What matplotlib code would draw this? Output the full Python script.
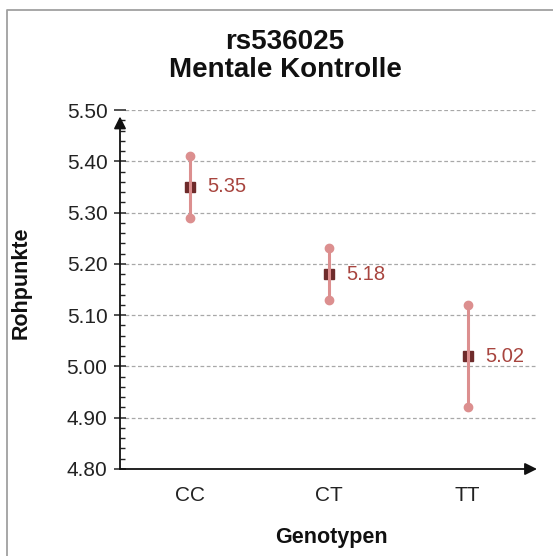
import matplotlib
matplotlib.use("Agg")
import matplotlib.pyplot as plt
from matplotlib.lines import Line2D
from matplotlib.ticker import MultipleLocator

plt.rcParams['font.family'] = ['Liberation Sans', 'DejaVu Sans']

categories = ["CC", "CT", "TT"]
means = [5.35, 5.18, 5.02]
lower = [5.29, 5.13, 4.92]
upper = [5.41, 5.23, 5.12]
value_labels = ["5.35", "5.18", "5.02"]
yticks = [4.80, 4.90, 5.00, 5.10, 5.20, 5.30, 5.40, 5.50]

title = "rs536025\nMentale Kontrolle"
xlabel = "Genotypen"
ylabel = "Rohpunkte"

W, H = 553, 556
fig = plt.figure(figsize=(W / 100, H / 100), dpi=100)
ax = fig.add_axes([120/W, 1 - 469/H, 417/W, 359/H])

line_col = "#dc8f8f"
mark_col = "#6e2b2b"
lab_col = "#a8453f"
txt_col = "#222222"

x = list(range(len(categories)))
for xi, m, lo, hi, lab in zip(x, means, lower, upper, value_labels):
    ax.plot([xi], [m], marker="s", ms=6.5, color=mark_col, zorder=3, linestyle="none")
    ax.plot([xi, xi], [lo, hi], color=line_col, lw=2.2, zorder=4, solid_capstyle="butt")
    ax.plot([xi, xi], [lo, hi], marker="o", ms=6, color=line_col, linestyle="none", zorder=4)
    ax.annotate(lab, xy=(xi, m), xytext=(13, 0), textcoords="offset points",
                ha="left", va="center", color=lab_col, fontsize=14.5)

ax.set_xlim(-0.5, 2.5)
ax.set_ylim(4.80, 5.50)
ax.set_xticks(x)
ax.set_xticklabels(categories)
ax.set_yticks(yticks)
ax.set_yticklabels([f"{v:.2f}" for v in yticks])
ax.yaxis.set_minor_locator(MultipleLocator(0.02))

for sp in ax.spines.values():
    sp.set_visible(False)

for v in yticks[1:]:
    ax.axhline(v, xmin=0.012, xmax=1.0, color="#a8a8a8", lw=0.9, ls=(0, (3, 2)), zorder=1)

ax.tick_params(axis="y", which="major", direction="inout", length=8, width=1.1,
               color=txt_col, labelsize=15, labelcolor=txt_col, pad=5)
ax.tick_params(axis="y", which="minor", direction="in", length=3.5, width=1.0, color=txt_col)
ax.tick_params(axis="x", which="major", length=0, labelsize=15, labelcolor=txt_col, pad=12)

# axis arrows
ax.annotate("", xy=(1.0, 0), xytext=(0, 0), xycoords="axes fraction",
            arrowprops=dict(arrowstyle="-|>", color="#111111", lw=1.3, mutation_scale=18,
                            shrinkA=0, shrinkB=0), zorder=5)
ax.annotate("", xy=(0, 0.982), xytext=(0, 0), xycoords="axes fraction",
            arrowprops=dict(arrowstyle="-|>", color="#111111", lw=1.3, mutation_scale=18,
                            shrinkA=0, shrinkB=0), zorder=5)

fig.text(331/W, 1 - 537/H, xlabel, ha="center", va="center", fontsize=15.5,
         fontweight="bold", color="#111111")
fig.text(21/W, 1 - 283/H, ylabel, ha="center", va="center", rotation=90, fontsize=15.5,
         fontweight="bold", color="#111111")

fig.text(285/W, 1 - 56/H, title, ha="center", va="center", fontsize=20,
         fontweight="bold", linespacing=1.13, color="#111111")

# figure border (top and left)
fig.add_artist(Line2D([7/W, 7/W, 1.0], [0.0, 1 - 10/H, 1 - 10/H],
                      transform=fig.transFigure, color="#a0a0a0", lw=1.3))

fig.savefig("out.png", dpi=100)
